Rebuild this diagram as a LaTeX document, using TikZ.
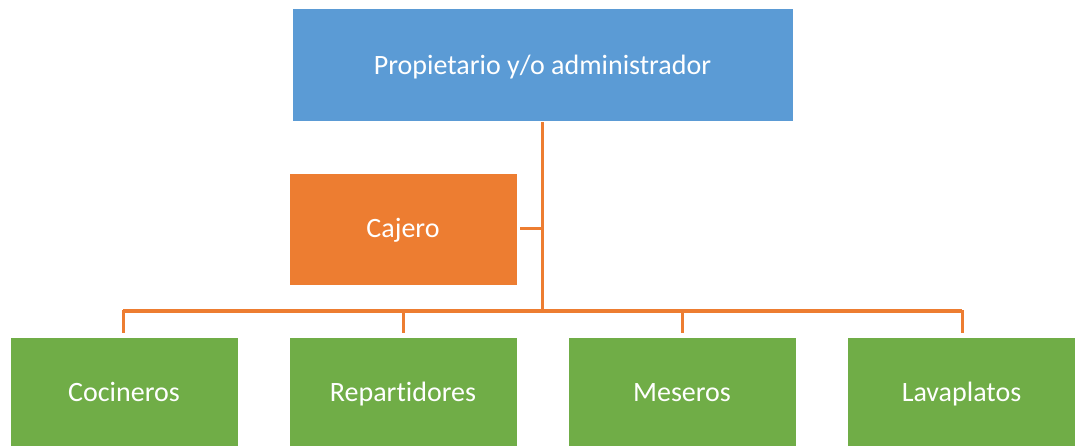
\documentclass[tikz,border=0pt]{standalone}
\usepackage{fontspec}
\setmainfont[Ligatures={NoCommon}]{Carlito}
\definecolor{cblue}{HTML}{5B9BD5}
\definecolor{corange}{HTML}{ED7D31}
\definecolor{cgreen}{HTML}{70AD47}
\begin{document}
\begin{tikzpicture}[x=1pt,y=-1pt,
  box/.style={draw=white,line width=0.8pt,text=white,inner sep=0pt,
    font=\fontsize{28}{32}\selectfont,text height=25pt,text depth=7pt,
    minimum height=113pt},
  top/.style={box,fill=cblue,minimum width=501pt},
  assist/.style={box,fill=corange,minimum width=228pt,minimum height=112pt},
  staff/.style={box,fill=cgreen,minimum width=228pt,minimum height=110pt},
  link/.style={draw=corange,line width=3pt}]
\useasboundingbox (0,0) rectangle (1076,446);
\node[top] (owner) at (542.5,65.25) {Propietario y/o administrador};
\node[assist] (cajero) at (403,229) {Cajero};
\node[staff] (coc) at (124,392) {Cocineros};
\node[staff] (rep) at (403,392) {Repartidores};
\node[staff] (mes) at (682,392) {Meseros};
\node[staff] (lav) at (961.5,392) {Lavaplatos};
\coordinate (hub) at (542,311);
\coordinate (cj) at (542,229);
\path[link] (owner.south -| hub) -- (hub);
\path[link] ([xshift=3pt]cajero.east) -- (cj);
\path[link] (123,311) -- (962,311);
\foreach \n/\x in {coc/123,rep/403,mes/682,lav/962}{
  \path[link] (\x,310) -- (\x,333);
}
\end{tikzpicture}
\end{document}
